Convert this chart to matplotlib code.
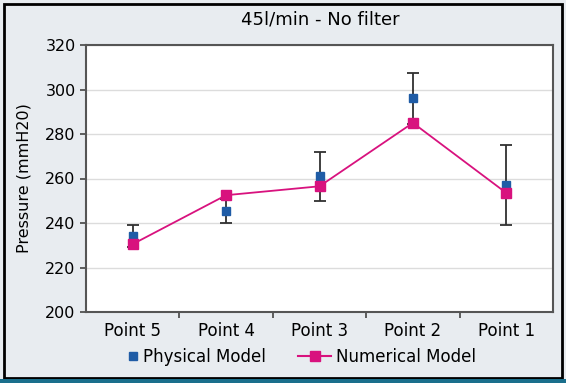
import numpy as np
import matplotlib.pyplot as plt
from matplotlib.patches import Rectangle
from matplotlib.lines import Line2D

points = ['Point 5', 'Point 4', 'Point 3', 'Point 2', 'Point 1']
physical = [234, 245.5, 261, 296, 257]
physical_err = [5, 5.5, 11, 11.5, 18]
numerical = [230.5, 252.5, 256.5, 285, 253.5]

blue = '#1f5ca6'
pink = '#d8127e'
bg = '#e8ecf0'


def main():
    fig = plt.figure(figsize=(5.66, 3.83), dpi=100, facecolor=bg)
    ax = fig.add_axes([86 / 566, 1 - 312 / 383, 467 / 566, 267 / 383])
    x = np.arange(len(points))

    ax.errorbar(x, physical, yerr=physical_err, fmt='s', color=blue, ms=6,
                ecolor='#303030', elinewidth=1.3, capsize=4, capthick=1.3, zorder=3)
    ax.plot(x, numerical, '-s', color=pink, lw=1.3, ms=7, zorder=4,
            markeredgecolor=pink)

    ax.set_xlim(-0.5, len(points) - 0.5)
    ax.set_ylim(200, 320)
    ax.set_yticks(range(200, 321, 20))
    ax.set_xticks(x)
    ax.set_xticklabels(points)
    ax.set_xticks(np.arange(0.5, len(points) - 0.5, 1), minor=True)
    ax.tick_params(axis='x', which='major', length=0, labelsize=12, pad=7)
    ax.tick_params(axis='x', which='minor', length=4, width=1.2, color='#444444')
    ax.tick_params(axis='y', length=4, width=1.2, color='#444444', labelsize=11.5)
    ax.yaxis.grid(True, color='#dcdcdc', lw=1)
    ax.set_axisbelow(True)
    for s in ax.spines.values():
        s.set_color('#555555')
        s.set_linewidth(1.5)

    ax.set_ylabel('Pressure (mmH20)', fontsize=11.5, labelpad=10)
    fig.text(320 / 566, 1 - 20 / 383, '45l/min - No filter', ha='center', va='center',
             fontsize=13)

    h1 = [Line2D([], [], ls='none', marker='s', color=blue, ms=6)]
    h2 = [Line2D([], [], ls='-', marker='s', color=pink, ms=7, lw=1.5)]
    fig.legend(h1, ['Physical Model'], loc='center left',
               bbox_to_anchor=(128 / 566, 1 - 357 / 383), frameon=False,
               fontsize=12, handlelength=0.6, handletextpad=0.3,
               borderpad=0, borderaxespad=0)
    fig.legend(h2, ['Numerical Model'], loc='center left',
               bbox_to_anchor=(298 / 566, 1 - 357 / 383), frameon=False,
               fontsize=12, handlelength=2.0, handletextpad=0.3,
               borderpad=0, borderaxespad=0)

    fig.patches.append(Rectangle((4 / 566, 5 / 383), 558 / 566, 374 / 383,
                                 transform=fig.transFigure, fill=False,
                                 edgecolor='black', lw=2))
    fig.patches.append(Rectangle((0, 0), 1, 4 / 383, transform=fig.transFigure,
                                 facecolor='#1a6f8c', edgecolor='none'))
    fig.savefig('out.png', dpi=100, facecolor=bg)


main()
